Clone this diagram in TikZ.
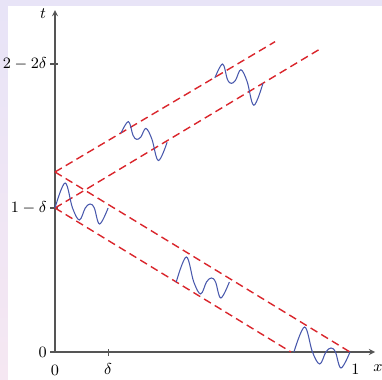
\documentclass[tikz,border=0pt]{standalone}
\usepackage{amsmath}
\usetikzlibrary{arrows,calc}

\definecolor{framelav}{RGB}{232,228,247}
\definecolor{framepink}{RGB}{245,231,242}
\definecolor{charred}{RGB}{218,38,44}
\definecolor{waveblue}{RGB}{72,88,172}
\definecolor{axisgray}{RGB}{85,85,85}

\begin{document}
\begin{tikzpicture}[>=stealth, x=5.9cm, y=3.6cm, font=\small]
	\tikzstyle{axis}=[semithick, axisgray, ->]
	\tikzstyle{tickmark}=[semithick, axisgray]
	\tikzstyle{charline}=[thick, charred, dash pattern=on 4.5pt off 2.6pt]
	\tikzstyle{wave}=[semithick, waveblue]

	\newcommand{\WavePacket}[3]{
		\coordinate (w1) at ($(#1)!0.19!(#2)+(0,{#3*0.5cm})$);
		\coordinate (w2) at ($(#1)!0.33!(#2)$);
		\coordinate (w3) at ($(#1)!0.46!(#2)+(0,{#3*-0.24cm})$);
		\coordinate (w4) at ($(#1)!0.57!(#2)$);
		\coordinate (w5) at ($(#1)!0.66!(#2)+(0,{#3*0.08cm})$);
		\coordinate (w6) at ($(#1)!0.74!(#2)$);
		\coordinate (w7) at ($(#1)!0.84!(#2)+(0,{#3*-0.32cm})$);
		\draw [wave] plot [smooth, tension=0.6] coordinates {(#1) (w1) (w2) (w3) (w4) (w5) (w6) (w7) (#2)};
	}

	\useasboundingbox (-1.1cm,-0.54cm) rectangle (6.54cm,7.04cm);
	\fill [framelav] (-1.1cm,6.92cm) rectangle (6.54cm,7.04cm);
	\shade [top color=framelav, bottom color=framepink] (-1.1cm,-0.54cm) rectangle (-0.94cm,6.92cm);

	\coordinate (O) at (0,0);
	\coordinate (xend) at (1.085,0);
	\coordinate (tend) at (0,1.9);

	\draw [axis] (O) -- (xend);
	\draw [axis] (O) -- (tend);

	\node (tlab) at ($(tend)+(-0.24cm,-0.08cm)$) {$t$};
	\node (xlab) at ($(xend)+(0.06cm,-0.33cm)$) {$x$};

	\coordinate (x0) at (0,0);
	\coordinate (xd) at (0.18,0);
	\coordinate (x1) at (1,0);
	\coordinate (t0) at (0,0);
	\coordinate (t1) at (0,0.8);
	\coordinate (t2) at (0,1.6);

	\draw [tickmark] ($(xd)+(0,-0.07cm)$) -- ($(xd)+(0,0.07cm)$);
	\draw [tickmark] ($(t0)+(-0.09cm,0)$) -- ($(t0)+(0.06cm,0)$);
	\draw [tickmark] ($(t1)+(-0.09cm,0)$) -- ($(t1)+(0.06cm,0)$);
	\draw [tickmark] ($(t2)+(-0.09cm,0)$) -- ($(t2)+(0.06cm,0)$);

	\node (lx0) at ($(x0)+(0,-0.36cm)$) {$0$};
	\node (lxd) at ($(xd)+(0,-0.34cm)$) {$\delta$};
	\node (lx1) at ($(x1)+(0.11cm,-0.34cm)$) {$1$};
	\node (lt0) [anchor=east] at ($(t0)+(-0.04cm,0)$) {$0$};
	\node (lt1) [anchor=east] at ($(t1)+(-0.04cm,0)$) {$1-\delta$};
	\node (lt2) [anchor=east] at ($(t2)+(-0.04cm,0)$) {$2-2\delta$};

	\coordinate (d1s) at (0,1);
	\coordinate (d1e) at (1,0);
	\coordinate (d2s) at (0,0.8);
	\coordinate (d2e) at (0.8,0);
	\coordinate (u1e) at (0.746,1.724);
	\coordinate (u2e) at (0.905,1.69);

	\draw [charline] (d1s) -- (d1e);
	\draw [charline] (d2s) -- (d2e);
	\draw [charline] (d1s) -- (u1e);
	\draw [charline] (d2s) -- (u2e);

	\WavePacket{0,0.8}{0.18,0.8}{1}
	\WavePacket{0.411,0.389}{0.591,0.389}{1}
	\WavePacket{0.81,0}{1,0}{1}
	\WavePacket{0.38,1.165}{0.224,1.217}{-0.8}
	\WavePacket{0.705,1.493}{0.542,1.523}{-0.92}
\end{tikzpicture}
\end{document}
